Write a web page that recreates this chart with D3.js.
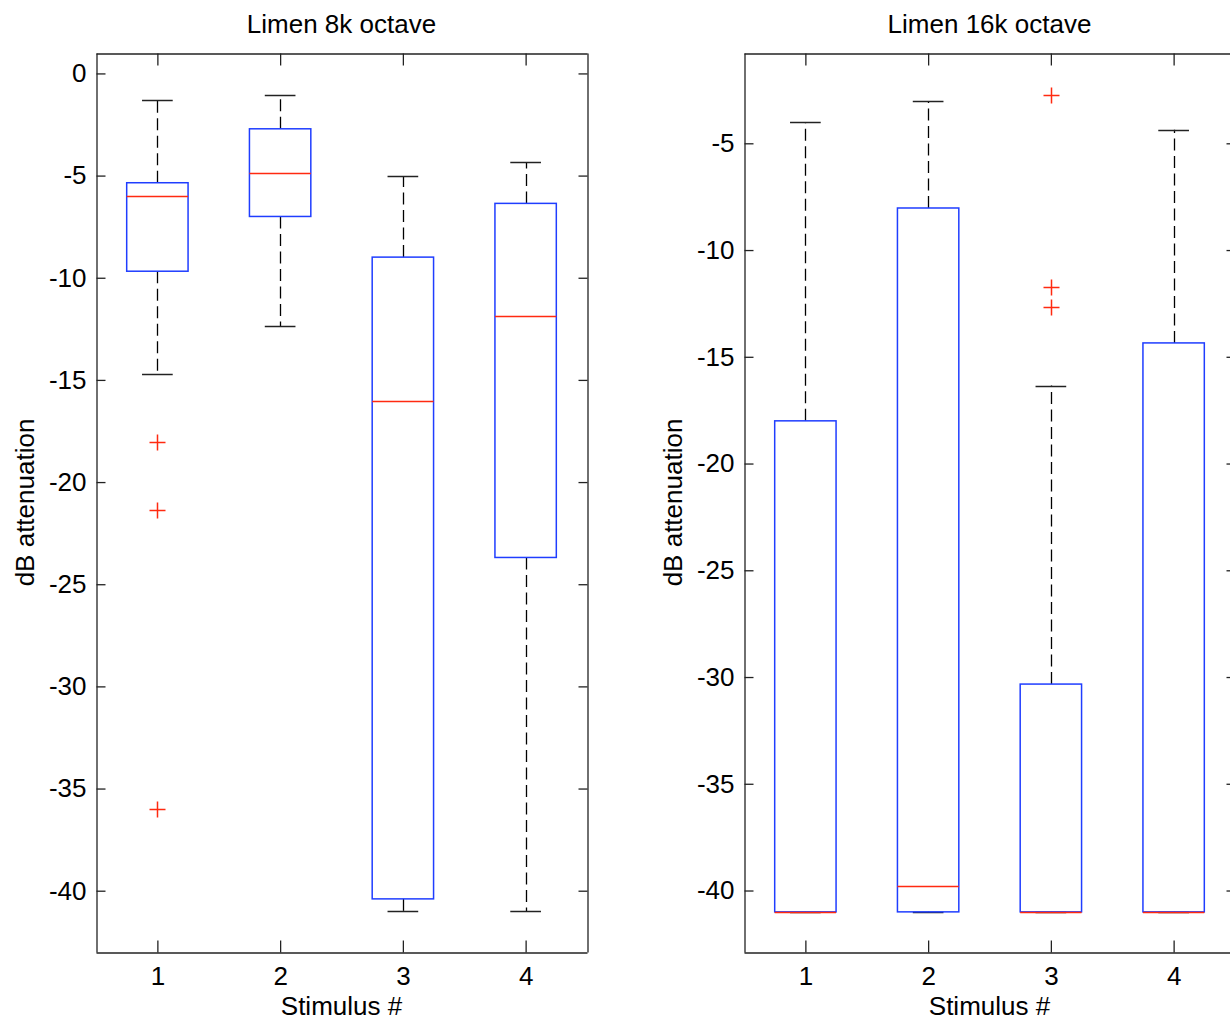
<!DOCTYPE html>
<html>
<head>
<meta charset="utf-8">
<script src="https://cdn.jsdelivr.net/npm/d3@7"></script>
<style>
  html, body { margin: 0; padding: 0; background: #fff; }
  svg { display: block; }
  text { font-family: "Liberation Sans", Arial, Helvetica, sans-serif; fill: #000; }
</style>
</head>
<body>
<svg id="chart" width="1230" height="1021"></svg>
<script>
// ---------------- data ----------------
const categories = [1, 2, 3, 4];
const xTickLabels = ["1", "2", "3", "4"];

// Panel 1: Limen 8k octave
const title8 = "Limen 8k octave";
const whiskerHi8 = [-1.32, -1.04, -5.04, -4.34];
const q3_8       = [-5.35, -2.71, -8.99, -6.36];
const median8    = [-6.02, -4.88, -16.04, -11.85];
const q1_8       = [-9.68, -7.0, -40.4, -23.69];
const whiskerLo8 = [-14.72, -12.38, -41.0, -41.0];
const outliers8  = [[-18.03, -21.36, -36.0], [], [], []];
const yTicks8    = [0, -5, -10, -15, -20, -25, -30, -35, -40];
const yDomain8   = [-43.0, 1.0];

// Panel 2: Limen 16k octave
const title16 = "Limen 16k octave";
const whiskerHi16 = [-4.02, -3.03, -16.35, -4.37];
const q3_16       = [-18.0, -8.03, -30.33, -14.35];
const median16    = [-41.0, -39.81, -41.0, -41.0];
const q1_16       = [-41.0, -41.0, -41.0, -41.0];
const whiskerLo16 = [-41.0, -41.0, -41.0, -41.0];
const outliers16  = [[], [], [-2.74, -11.72, -12.68], []];
const yTicks16    = [-5, -10, -15, -20, -25, -30, -35, -40];
const yDomain16   = [-42.88, -0.77];

const xLabel = "Stimulus #";
const yLabel = "dB attenuation";

// ---------------- drawing ----------------
const svg = d3.select("#chart");
const plotTop = 53, plotBottom = 952;
const panelW = 491;

function panel(left, title, hi, q3, med, q1, lo, outs, yTicks, yDomain) {
  const x = d3.scaleLinear().domain([0.5, 4.5]).range([left, left + panelW]);
  const y = d3.scaleLinear().domain(yDomain).range([plotBottom, plotTop]);
  const g = svg.append("g");
  const fs = 26;

  // axes (inward ticks on all four sides)
  const axL = d3.axisLeft(y).tickValues(yTicks).tickSizeInner(-9).tickSizeOuter(0).tickPadding(10).tickFormat(d => String(d));
  const axR = d3.axisRight(y).tickValues(yTicks).tickSizeInner(-9).tickSizeOuter(0).tickFormat("");
  const axB = d3.axisBottom(x).tickValues(categories).tickSizeInner(-12).tickSizeOuter(0).tickPadding(14).tickFormat((d, i) => xTickLabels[i]);
  const axT = d3.axisTop(x).tickValues(categories).tickSizeInner(-12).tickSizeOuter(0).tickFormat("");

  const gl = g.append("g").attr("transform", `translate(${left + 0.5},0)`).call(axL);
  const gr = g.append("g").attr("transform", `translate(${left + panelW + 0.5},0)`).call(axR);
  const gb = g.append("g").attr("transform", `translate(0,${plotBottom + 0.5})`).call(axB);
  const gt = g.append("g").attr("transform", `translate(0,${plotTop + 0.5})`).call(axT);
  [gl, gr, gb, gt].forEach(a => {
    a.selectAll("path.domain").attr("stroke", "#222").attr("stroke-width", 1.3);
    a.selectAll(".tick line").attr("stroke", "#222").attr("stroke-width", 1.3);
    a.selectAll("text").style("font-size", fs + "px").attr("fill", "#000")
      .style("font-family", '"Liberation Sans", Arial, sans-serif');
  });
  gb.selectAll(".tick text").attr("dy", "0.71em");

  // title & labels
  g.append("text").attr("x", left + panelW / 2).attr("y", 33)
    .attr("text-anchor", "middle").style("font-size", fs + "px").text(title);
  g.append("text").attr("x", left + panelW / 2).attr("y", 1015)
    .attr("text-anchor", "middle").style("font-size", fs + "px").text(xLabel);
  g.append("text").attr("transform", `translate(${left - 62},${(plotTop + plotBottom) / 2}) rotate(-90)`)
    .attr("text-anchor", "middle").style("font-size", fs + "px").text(yLabel);

  const plot = g.append("g");
  const boxHalf = 0.25, capHalf = 0.125;

  categories.forEach((c, i) => {
    const cx = Math.round(x(c)) + 0.5;
    // whiskers (dashed)
    plot.append("line").attr("x1", cx).attr("x2", cx).attr("y1", y(q3[i])).attr("y2", y(hi[i]))
      .attr("stroke", "#000").attr("stroke-width", 1.3).attr("stroke-dasharray", "12,5.5");
    plot.append("line").attr("x1", cx).attr("x2", cx).attr("y1", y(q1[i])).attr("y2", y(lo[i]))
      .attr("stroke", "#000").attr("stroke-width", 1.3).attr("stroke-dasharray", "12,5.5");
    // caps
    [hi[i], lo[i]].forEach(v => {
      plot.append("line").attr("x1", x(c - capHalf)).attr("x2", x(c + capHalf))
        .attr("y1", Math.round(y(v)) + 0.5).attr("y2", Math.round(y(v)) + 0.5)
        .attr("stroke", "#222").attr("stroke-width", 1.5);
    });
    // box
    plot.append("rect").attr("x", x(c - boxHalf)).attr("width", x(c + boxHalf) - x(c - boxHalf))
      .attr("y", y(q3[i])).attr("height", y(q1[i]) - y(q3[i]))
      .attr("fill", "none").attr("stroke", "#1f3dff").attr("stroke-width", 1.5);
    // median
    plot.append("line").attr("x1", x(c - boxHalf)).attr("x2", x(c + boxHalf))
      .attr("y1", Math.round(y(med[i])) + 0.5).attr("y2", Math.round(y(med[i])) + 0.5)
      .attr("stroke", "#ff2a10").attr("stroke-width", 1.5);
    // outliers
    outs[i].forEach(v => {
      const py = Math.round(y(v)) + 0.5;
      plot.append("path").attr("d", `M${cx - 8},${py}H${cx + 8}M${cx},${py - 8}V${py + 8}`)
        .attr("stroke", "#ff2a10").attr("stroke-width", 1.5).attr("fill", "none");
    });
  });
}

panel(96, title8, whiskerHi8, q3_8, median8, q1_8, whiskerLo8, outliers8, yTicks8, yDomain8);
panel(744, title16, whiskerHi16, q3_16, median16, q1_16, whiskerLo16, outliers16, yTicks16, yDomain16);
</script>
</body>
</html>
